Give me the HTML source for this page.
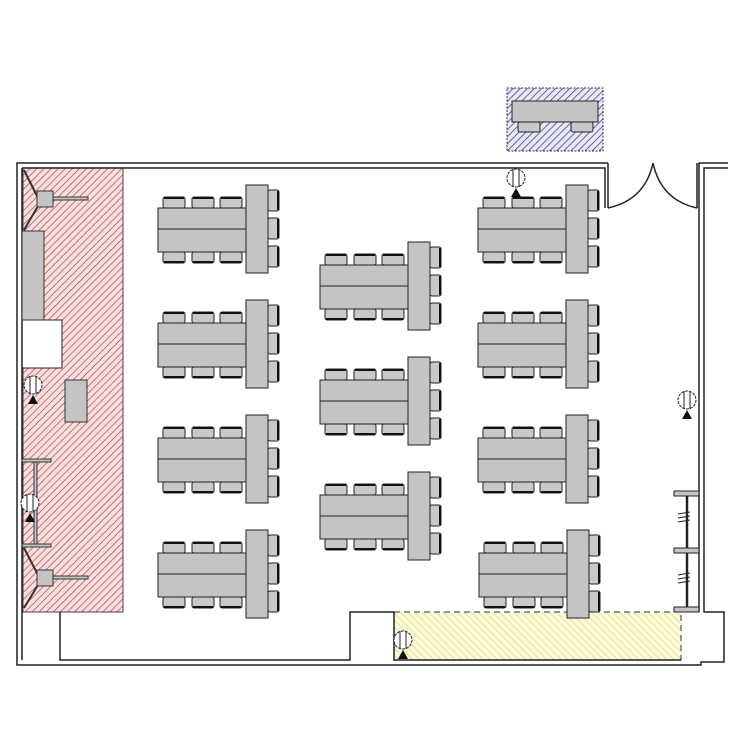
<!DOCTYPE html>
<html><head><meta charset="utf-8"><style>html,body{margin:0;padding:0;background:#fff}svg{display:block}</style></head>
<body>
<svg width="750" height="750" viewBox="0 0 750 750" xmlns="http://www.w3.org/2000/svg">
<defs>
<pattern id="red" patternUnits="userSpaceOnUse" width="5" height="5" patternTransform="rotate(45)">
<rect width="5" height="5" fill="#fbe0e0"/><line x1="0" y1="0" x2="0" y2="5" stroke="#b84040" stroke-width="1.4"/></pattern>
<pattern id="yel" patternUnits="userSpaceOnUse" width="5" height="5" patternTransform="rotate(-45)">
<rect width="5" height="5" fill="#fdfbd8"/><line x1="0" y1="0" x2="0" y2="5" stroke="#d8cf80" stroke-width="1.2"/></pattern>
<pattern id="blu" patternUnits="userSpaceOnUse" width="5" height="5" patternTransform="rotate(45)">
<rect width="5" height="5" fill="#e8e8f8"/><line x1="0" y1="0" x2="0" y2="5" stroke="#3a3a80" stroke-width="1.5"/></pattern>
<g id="grp" stroke="#222" stroke-width="1">
<g fill="#c8c8c8">
<rect x="163" y="197" width="22" height="11" rx="2"/><rect x="192" y="197" width="22" height="11" rx="2"/><rect x="220" y="197" width="22" height="11" rx="2"/>
<rect x="163" y="252" width="22" height="11" rx="2"/><rect x="192" y="252" width="22" height="11" rx="2"/><rect x="220" y="252" width="22" height="11" rx="2"/>
<rect x="268" y="190" width="11" height="21" rx="2"/><rect x="268" y="218" width="11" height="21" rx="2"/><rect x="268" y="246" width="11" height="21" rx="2"/>
</g>
<g fill="none" stroke="#111" stroke-width="2">
<line x1="164" y1="198" x2="184" y2="198"/><line x1="193" y1="198" x2="213" y2="198"/><line x1="221" y1="198" x2="241" y2="198"/>
<line x1="164" y1="262" x2="184" y2="262"/><line x1="193" y1="262" x2="213" y2="262"/><line x1="221" y1="262" x2="241" y2="262"/>
<line x1="278" y1="191" x2="278" y2="210"/><line x1="278" y1="219" x2="278" y2="238"/><line x1="278" y1="247" x2="278" y2="266"/>
</g>
<rect x="158" y="208" width="89" height="44" fill="#c4c4c4"/>
<line x1="158" y1="229" x2="247" y2="229"/>
<rect x="246" y="185" width="22" height="88" fill="#c4c4c4"/>
</g>
<g id="sen">
<circle cx="0" cy="0" r="9" fill="#fff" stroke="#222" stroke-width="1" stroke-dasharray="3,1"/>
<line x1="-3" y1="-9" x2="-3" y2="9" stroke="#222"/><line x1="3" y1="-9" x2="3" y2="9" stroke="#222"/>
<polygon points="0,10 -5,19 5,19" fill="#111"/>
</g>
</defs>

<rect x="23" y="168" width="100" height="444" fill="url(#red)" stroke="#444" stroke-width="1"/>
<rect x="22" y="320" width="40" height="48" fill="#fff" stroke="#222"/>
<rect x="394" y="612" width="287" height="48" fill="url(#yel)" stroke="#333" stroke-dasharray="6,4"/>
<rect x="507" y="88" width="96" height="63" fill="url(#blu)" stroke="#333" stroke-dasharray="2,1.5"/>
<g stroke="#222" fill="#c8c8c8">
<rect x="518" y="122" width="22" height="10" rx="2"/><rect x="571" y="122" width="22" height="10" rx="2"/>
<rect x="512" y="101" width="86" height="21" fill="#c4c4c4"/>
</g>

<g fill="none" stroke="#222" stroke-width="1.5">
<polyline points="608,163 17,163 17,665 701,665 701,662 724,662 724,612 704,612 704,168 728,168"/>
<polyline points="605,208 605,168 22,168"/>
<line x1="608" y1="163" x2="608" y2="208"/>
<line x1="697" y1="163" x2="697" y2="208"/>
<polyline points="699,208 699,163 728,163"/>
<line x1="699" y1="208" x2="699" y2="612"/>
<line x1="22" y1="168" x2="22" y2="660"/>
<polyline points="60,612 60,660 350,660 350,612 394,612 394,660 681,660"/>
<path d="M608,208 Q645,200 653,163 Q661,200 697,208"/>
</g>

<g stroke="#333" stroke-width="1">
<rect x="22" y="231" width="22" height="89" fill="#c4c4c4"/>
<rect x="65" y="380" width="22" height="42" fill="#c4c4c4"/>
<line x1="24" y1="170" x2="38" y2="198" stroke-width="2"/><line x1="38" y1="206" x2="24" y2="230" stroke-width="2"/>
<rect x="37" y="191" width="16" height="16" fill="#c4c4c4"/>
<rect x="53" y="197" width="35" height="3" fill="#c4c4c4"/>
<rect x="34" y="460" width="3" height="85" fill="#c4c4c4"/>
<rect x="22" y="459" width="29" height="3" fill="#c4c4c4"/>
<rect x="22" y="544" width="29" height="3" fill="#c4c4c4"/>
<line x1="24" y1="548" x2="38" y2="575" stroke-width="2"/><line x1="38" y1="585" x2="24" y2="608" stroke-width="2"/>
<rect x="37" y="570" width="16" height="16" fill="#c4c4c4"/>
<rect x="53" y="576" width="35" height="3" fill="#c4c4c4"/>
</g>

<g stroke="#222">
<line x1="687" y1="493" x2="687" y2="612" stroke-width="2.5"/>
<rect x="674" y="491" width="25" height="5" fill="#c4c4c4"/>
<rect x="674" y="548" width="25" height="5" fill="#c4c4c4"/>
<rect x="674" y="607" width="25" height="5" fill="#c4c4c4"/>
<path d="M678,514 l12,-2 M678,518 l12,-2 M678,522 l12,-2 M678,575 l12,-2 M678,579 l12,-2 M678,583 l12,-2" fill="none"/>
</g>

<use href="#grp"/>
<use href="#grp" y="115"/>
<use href="#grp" y="230"/>
<use href="#grp" y="345"/>
<use href="#grp" x="162" y="57"/>
<use href="#grp" x="162" y="172"/>
<use href="#grp" x="162" y="287"/>
<use href="#grp" x="320"/>
<use href="#grp" x="320" y="115"/>
<use href="#grp" x="320" y="230"/>
<use href="#grp" x="321" y="345"/>

<use href="#sen" x="516" y="178"/>
<use href="#sen" x="33" y="385"/>
<use href="#sen" x="30" y="503"/>
<use href="#sen" x="687" y="400"/>
<use href="#sen" x="403" y="640"/>
</svg>
</body></html>
